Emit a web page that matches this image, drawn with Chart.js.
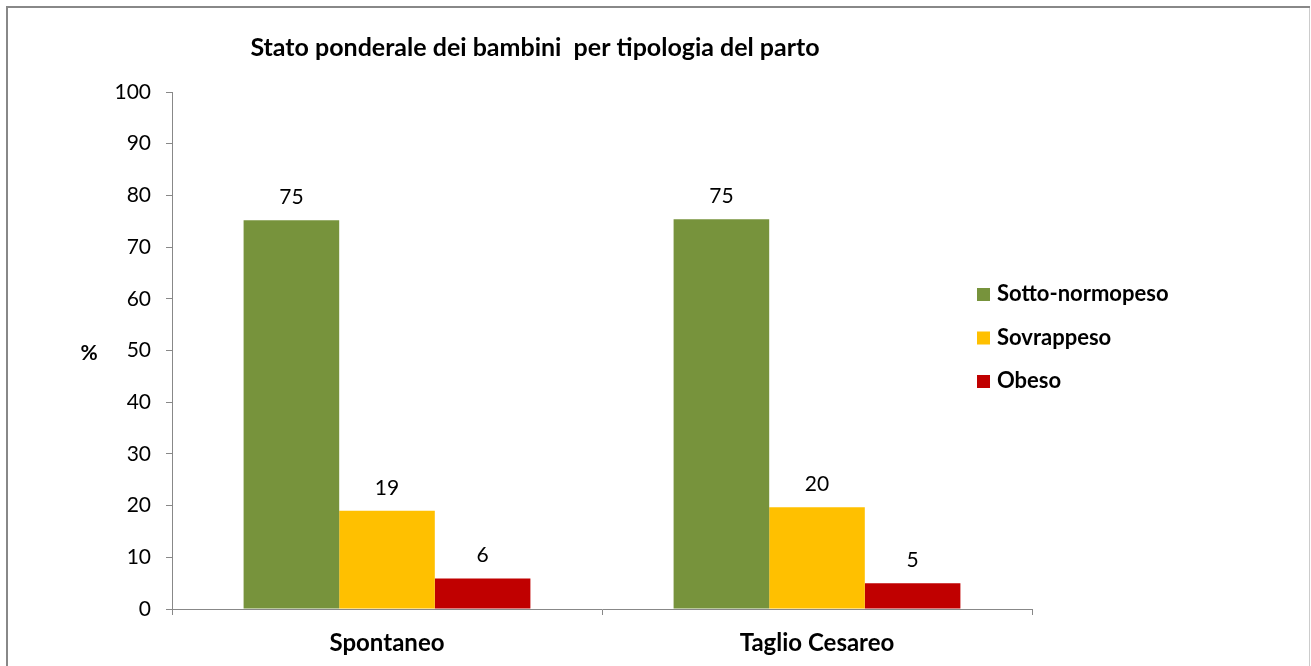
<!DOCTYPE html>
<html>
<head>
<meta charset="utf-8">
<script src="https://cdn.jsdelivr.net/npm/chart.js@4"></script>
<style>
  body { margin: 0; background: #fff; }
  #box { width: 1311px; height: 666px; position: relative; }
</style>
</head>
<body>
<div id="box"><canvas id="myChart"></canvas></div>
<script>
// dati
const categorie = ['Spontaneo', 'Taglio Cesareo'];
const sottoNormopeso = [75.2, 75.4];
const sovrappeso = [19.0, 19.7];
const obeso = [5.9, 5.0];
const etichette = [['75', '75'], ['19', '20'], ['6', '5']];
const serie = ['Sotto-normopeso', 'Sovrappeso', 'Obeso'];
const colori = ['#77933C', '#FFC000', '#C00000'];
const yTicks = [0, 10, 20, 30, 40, 50, 60, 70, 80, 90, 100];

const FONT = 'Lato, "Open Sans", sans-serif';
Chart.defaults.font.family = FONT;
Chart.defaults.color = '#000';

// titolo, legenda, "%" ed etichette dati
const extra = {
  id: 'extra',
  afterDraw(chart) {
    const ctx = chart.ctx;
    ctx.save();
    // cornice
    ctx.strokeStyle = '#888';
    ctx.lineWidth = 2;
    ctx.beginPath();
    ctx.moveTo(7, 700); ctx.lineTo(7, 7); ctx.lineTo(1310, 7);
    ctx.stroke();
    ctx.strokeStyle = '#ccc';
    ctx.lineWidth = 1;
    ctx.beginPath();
    ctx.moveTo(1309.5, 8); ctx.lineTo(1309.5, 666);
    ctx.stroke();

    ctx.fillStyle = '#000';
    ctx.textBaseline = 'middle';
    ctx.textAlign = 'center';
    ctx.font = 'bold 25px ' + FONT;
    ctx.fillText('Stato ponderale dei bambini  per tipologia del parto', 535, 48);

    ctx.font = 'bold 21px ' + FONT;
    ctx.fillText('%', 89, 353);

    // etichette sopra le barre
    ctx.font = '21px ' + FONT;
    chart.data.datasets.forEach((ds, i) => {
      chart.getDatasetMeta(i).data.forEach((bar, j) => {
        ctx.fillText(etichette[i][j], bar.x, bar.y - 23);
      });
    });

    // legenda
    ctx.textAlign = 'left';
    ctx.font = 'bold 22px ' + FONT;
    serie.forEach((s, i) => {
      const y = 295 + i * 43.5;
      ctx.fillStyle = colori[i];
      ctx.fillRect(977, y - 7, 13, 13);
      ctx.fillStyle = '#000';
      ctx.fillText(s, 997, y - 1);
    });
    ctx.restore();
  }
};

const dati = [sottoNormopeso, sovrappeso, obeso];

new Chart(document.getElementById('myChart'), {
  type: 'bar',
  data: {
    labels: categorie,
    datasets: serie.map((s, i) => ({
      label: s,
      data: dati[i],
      backgroundColor: colori[i],
      borderWidth: 0,
      categoryPercentage: 0.667,
      barPercentage: 1
    }))
  },
  options: {
    responsive: true,
    maintainAspectRatio: false,
    animation: false,
    layout: { padding: { top: 92, right: 279, left: 0, bottom: 0 } },
    plugins: {
      legend: { display: false },
      title: { display: false },
      tooltip: { enabled: false }
    },
    scales: {
      x: {
        grid: { drawOnChartArea: false, drawTicks: true, tickLength: 6, color: '#888', offset: true },
        border: { color: '#888' },
        ticks: { font: { size: 24, weight: 'bold' }, padding: 14, color: '#000' },
        afterFit(scale) { scale.height = 57; }
      },
      y: {
        min: 0,
        max: 100,
        afterBuildTicks(scale) { scale.ticks = yTicks.map(v => ({ value: v })); },
        grid: { drawOnChartArea: false, drawTicks: true, tickLength: 6, color: '#888' },
        border: { color: '#888' },
        ticks: { font: { size: 21 }, padding: 15, color: '#000' },
        afterFit(scale) { scale.width = 172; }
      }
    }
  },
  plugins: [extra]
});
</script>
</body>
</html>
